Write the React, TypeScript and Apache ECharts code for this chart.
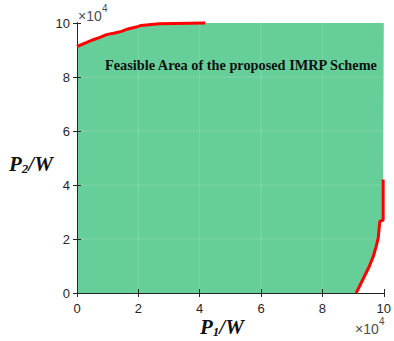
import React, { useEffect, useRef } from "react";
import * as echarts from "echarts";

const xTicks = [0, 2, 4, 6, 8, 10];
const yTicks = [0, 2, 4, 6, 8, 10];
const topX = [0, 0.32, 0.53, 0.75, 0.96, 1.23, 1.45, 1.66, 1.93, 2.09, 2.68, 4.18];
const topY = [9.13, 9.28, 9.38, 9.47, 9.57, 9.63, 9.69, 9.78, 9.85, 9.91, 9.97, 10];
const rightX = [9.1, 9.21, 9.37, 9.53, 9.66, 9.74, 9.82, 9.87, 9.98, 9.98];
const rightY = [0, 0.25, 0.62, 0.99, 1.36, 1.67, 2.04, 2.65, 2.7, 4.2];
const labelText = "Feasible Area of the proposed IMRP Scheme";

const GREEN = "#66CF99";
const AX = "#262626";

export default function App() {
  const ref = useRef<HTMLDivElement>(null);
  useEffect(() => {
    document.body.style.margin = "0";
    const chart = echarts.init(ref.current!, null, { renderer: "svg" });
    const topData = topX.map((x, i) => [x, topY[i]]);
    const rightData = rightX.map((x, i) => [x, rightY[i]]);
    const poly: number[][] = [[0, 0], ...topData, [10, 10], ...rightData.slice().reverse()];
    const axisCommon = {
      type: "value",
      min: 0,
      max: 10,
      interval: 2,
      z: 5,
      axisLine: { show: true, lineStyle: { color: AX, width: 1 } },
      axisTick: { show: true, inside: true, length: 4, lineStyle: { color: AX } },
      splitLine: { show: false },
    };
    const labelStyle = {
      color: AX,
      fontSize: 13,
      fontFamily: "Liberation Sans, Arial, sans-serif",
    };
    const serif = "'Liberation Serif', 'Times New Roman', serif";
    const sans = "'Liberation Sans', Arial, sans-serif";
    chart.setOption({
      animation: false,
      grid: { left: 77, right: 6, top: 23, bottom: 48, containLabel: false },
      xAxis: [
        { ...axisCommon, position: "bottom", axisLabel: { ...labelStyle, margin: 9 } },
        { ...axisCommon, position: "top", axisLabel: { show: false } },
      ],
      yAxis: [
        { ...axisCommon, position: "left", axisLabel: { ...labelStyle, margin: 7 } },
        { ...axisCommon, position: "right", axisLabel: { show: false } },
      ],
      series: [
        {
          type: "custom",
          xAxisIndex: 0,
          yAxisIndex: 0,
          data: [[0, 0]],
          z: 1,
          renderItem: (params: any, api: any) => {
            const pts = poly.map((p) => api.coord(p));
            const children: any[] = [
              { type: "polygon", shape: { points: pts }, style: { fill: GREEN, stroke: "none" } },
            ];
            xTicks.slice(1, -1).forEach((t) => {
              const a = api.coord([t, 0]);
              const b = api.coord([t, 10]);
              children.push({
                type: "line",
                shape: { x1: a[0], y1: a[1], x2: b[0], y2: b[1] },
                style: { stroke: "rgba(255,255,255,0.15)", lineWidth: 1 },
              });
            });
            yTicks.slice(1, -1).forEach((t) => {
              const a = api.coord([0, t]);
              const b = api.coord([10, t]);
              children.push({
                type: "line",
                shape: { x1: a[0], y1: a[1], x2: b[0], y2: b[1] },
                style: { stroke: "rgba(255,255,255,0.15)", lineWidth: 1 },
              });
            });
            return { type: "group", children };
          },
        },
        {
          type: "line",
          data: topData,
          showSymbol: false,
          clip: false,
          z: 6,
          lineStyle: { color: "#FF0000", width: 3 },
        },
        {
          type: "line",
          data: rightData,
          showSymbol: false,
          clip: false,
          z: 6,
          lineStyle: { color: "#FF0000", width: 3 },
        },
      ],
      graphic: [
        {
          type: "text",
          left: 105,
          top: 58,
          z: 10,
          style: {
            text: labelText,
            fill: "#111",
            font: "bold 14.3px " + serif,
          },
        },
        {
          type: "text",
          left: 78,
          top: 9,
          z: 10,
          style: { text: "×10", fill: "#4D4D4D", font: "14px " + sans },
        },
        {
          type: "text",
          left: 102,
          top: 3,
          z: 10,
          style: { text: "4", fill: "#4D4D4D", font: "10px " + sans },
        },
        {
          type: "text",
          left: 355,
          top: 322,
          z: 10,
          style: { text: "×10", fill: "#4D4D4D", font: "14px " + sans },
        },
        {
          type: "text",
          left: 379,
          top: 316,
          z: 10,
          style: { text: "4", fill: "#4D4D4D", font: "10px " + sans },
        },
        {
          type: "text",
          left: 200,
          top: 316,
          z: 10,
          style: {
            text: "{p|P}{s|1}{p|/W}",
            rich: {
              p: { font: "italic bold 21px " + serif, fill: "#111" },
              s: { font: "italic bold 13px " + serif, fill: "#111", padding: [10, 0, 0, 0] },
            },
          },
        },
        {
          type: "text",
          left: 9,
          top: 153,
          z: 10,
          style: {
            text: "{p|P}{s|2}{p|/W}",
            rich: {
              p: { font: "italic bold 21px " + serif, fill: "#111" },
              s: { font: "italic bold 13px " + serif, fill: "#111", padding: [10, 0, 0, 0] },
            },
          },
        },
      ],
    });
    return () => chart.dispose();
  }, []);
  return <div ref={ref} style={{ width: 394, height: 341 }} />;
}
